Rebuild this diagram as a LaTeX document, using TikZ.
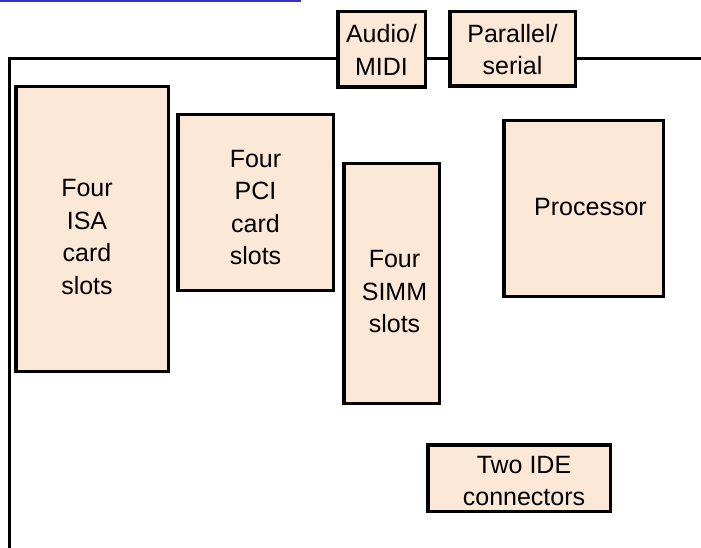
\documentclass[tikz,border=0pt]{standalone}
\usepackage{fontspec}
\setmainfont{Liberation Sans}
\usepackage{tikz}
\usetikzlibrary{positioning,calc}
\usepackage{xcolor}
\definecolor{mbPart}{HTML}{FCE8D6}
\definecolor{mbBorder}{HTML}{000000}
\definecolor{mbLink}{HTML}{3333CC}
% text lines of a part, nudged right by #1/2 and down by #2/2
\newcommand{\partlines}[3]{\hspace*{#1}\raisebox{0pt}[\height][\dimexpr\depth-#2\relax]{\begin{tabular}{@{}c@{}}#3\end{tabular}}}

\begin{document}
\begin{tikzpicture}[
        x=1pt, y=-1pt,
        part/.style={
            draw=mbBorder,
            fill=mbPart,
            line width=3.5pt,
            inner sep=0pt,
            outer sep=0pt,
            font=\fontsize{25}{32.5}\selectfont
        },
        board/.style={
            line width=3pt,
            draw=mbBorder
        }
    ]
    \useasboundingbox (0,0) rectangle (701,548);

    % link underline at the top edge
    \draw[mbLink, line width=1.6pt] (0,0.8) -- (301,0.8);

    \node[part, minimum width=152.5pt, minimum height=284.5pt] (isa) at (92,229)
        {\partlines{-10pt}{20pt}{Four\\ISA\\card\\slots}};
    \node[part, minimum width=155.5pt, minimum height=175.5pt] (pci) at (255.5,202.5)
        {\partlines{0pt}{14pt}{Four\\PCI\\card\\slots}};
    \node[part, minimum width=95.5pt, minimum height=239.5pt] (simm) at (391.5,283.5)
        {\partlines{6pt}{20pt}{Four\\SIMM\\slots}};
    \node[part, minimum width=159.5pt, minimum height=175.5pt] (cpu) at (583.5,208.5)
        {\partlines{14pt}{0pt}{Processor}};
    \node[part, minimum width=182.5pt, minimum height=66.5pt] (ide) at (519,478)
        {\partlines{10pt}{10pt}{Two IDE\\connectors}};
    \node[part, minimum width=87.5pt, minimum height=75.5pt] (audio) at (381.5,49.5)
        {\partlines{0pt}{6pt}{Audio/\\MIDI}};
    \node[part, minimum width=125.5pt, minimum height=74.5pt] (ports) at (512.5,49)
        {\partlines{0pt}{6pt}{Parallel/\\serial}};

    % board edges
    \coordinate (corner) at (9,59);
    \coordinate (bottom) at (9,548);
    \coordinate (edge) at (701,59);

    \draw[board] (bottom) -- (corner) -- (corner -| audio.west);
    \draw[board] (corner -| audio.east) -- (corner -| ports.west);
    \draw[board] (corner -| ports.east) -- (edge);

\end{tikzpicture}
\end{document}
